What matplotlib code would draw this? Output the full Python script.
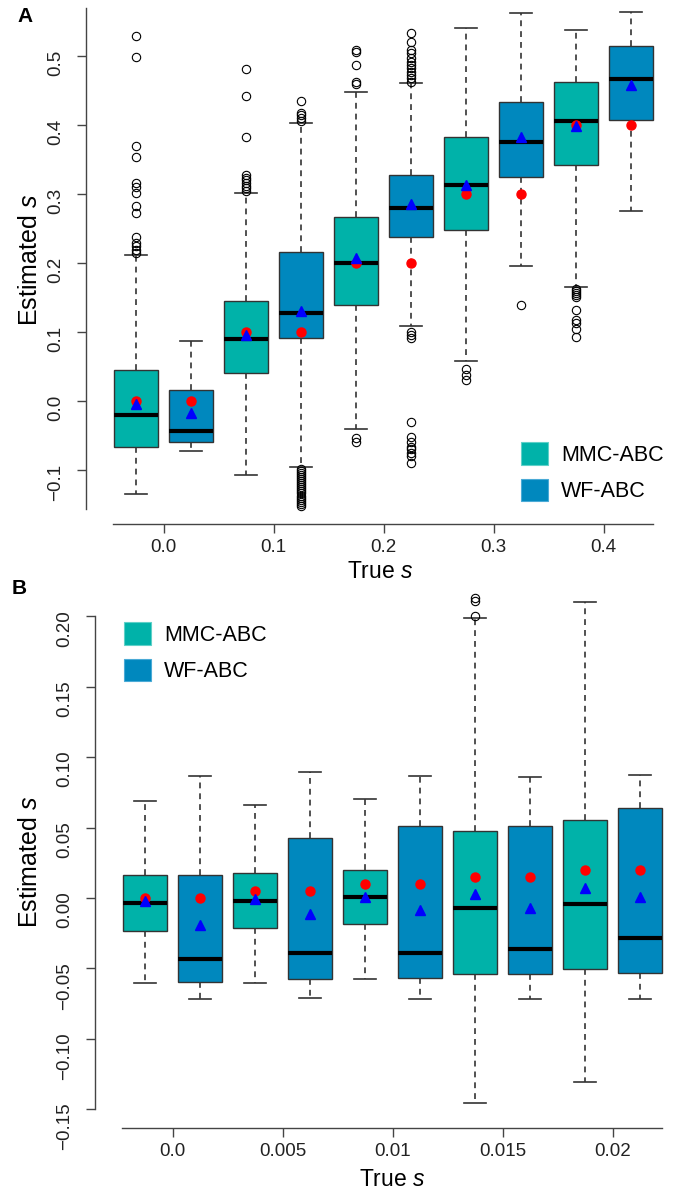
import matplotlib

matplotlib.use('Agg')
import matplotlib.pyplot as plt  # noqa: E402
from matplotlib.patches import Patch  # noqa: E402

plt.rcParams['font.family'] = ['Liberation Sans', 'DejaVu Sans']
plt.rcParams['mathtext.fontset'] = 'custom'
plt.rcParams['mathtext.rm'] = 'Liberation Sans'
plt.rcParams['mathtext.it'] = 'Liberation Sans:italic'

MMC_COLOR = '#00B2A9'
WF_COLOR = '#0088BE'
methods = ['MMC-ABC', 'WF-ABC']

# ---- panel A: large selection coefficients ----
a_tick_labels = ['0.0', '0.1', '0.2', '0.3', '0.4']
a_true = [0.0, 0.0, 0.1, 0.1, 0.2, 0.2, 0.3, 0.3, 0.4, 0.4]
a_mean = [-0.004, -0.018, 0.095, 0.130, 0.207, 0.286, 0.313, 0.383, 0.398, 0.458]
a_q1 = [-0.066, -0.060, 0.041, 0.092, 0.139, 0.238, 0.248, 0.325, 0.342, 0.407]
a_med = [-0.021, -0.043, 0.090, 0.128, 0.200, 0.279, 0.313, 0.375, 0.406, 0.467]
a_q3 = [0.045, 0.016, 0.145, 0.216, 0.266, 0.327, 0.382, 0.434, 0.462, 0.515]
a_whislo = [-0.135, -0.073, -0.108, -0.096, -0.041, 0.109, 0.058, 0.196, 0.165, 0.275]
a_whishi = [0.211, 0.087, 0.301, 0.403, 0.448, 0.461, 0.541, 0.563, 0.538, 0.564]
a_fliers = [
    [0.529, 0.498, 0.370, 0.353, 0.316, 0.310, 0.302, 0.282, 0.273, 0.238,
     0.229, 0.224, 0.219, 0.215],
    [],
    [0.481, 0.442, 0.383, 0.327, 0.323, 0.320, 0.316, 0.312, 0.308, 0.305],
    [0.435, 0.418, 0.414, 0.410, 0.406,
     -0.098, -0.101, -0.104, -0.107, -0.110, -0.113, -0.116, -0.119, -0.122,
     -0.125, -0.128, -0.131, -0.134, -0.137, -0.140, -0.143, -0.146, -0.149,
     -0.152],
    [0.509, 0.506, 0.487, 0.463, 0.460, -0.054, -0.059],
    [0.533, 0.521, 0.509, 0.504, 0.497, 0.492, 0.487, 0.482, 0.477, 0.472,
     0.468, 0.463, 0.100, 0.096, 0.091, -0.031, -0.052, -0.060, -0.066,
     -0.070, -0.075, -0.080, -0.090],
    [0.047, 0.038, 0.030],
    [0.139],
    [0.163, 0.160, 0.157, 0.154, 0.150, 0.132, 0.117, 0.113, 0.105, 0.093],
    [],
]
a_yticks = [-0.1, 0.0, 0.1, 0.2, 0.3, 0.4, 0.5]
a_ytick_labels = ['\u22120.1', '0.0', '0.1', '0.2', '0.3', '0.4', '0.5']

# ---- panel B: small selection coefficients ----
b_tick_labels = ['0.0', '0.005', '0.01', '0.015', '0.02']
b_true = [0.0, 0.0, 0.005, 0.005, 0.01, 0.01, 0.015, 0.015, 0.02, 0.02]
b_mean = [-0.002, -0.019, -0.001, -0.0116, 0.001, -0.0085, 0.0026, -0.0073, 0.0069, 0.0009]
b_q1 = [-0.0234, -0.0594, -0.0211, -0.0577, -0.0187, -0.0568, -0.0542, -0.0542, -0.0506, -0.0530]
b_med = [-0.0036, -0.0435, -0.0019, -0.0388, 0.0009, -0.0393, -0.0073, -0.0362, -0.0040, -0.0282]
b_q3 = [0.0165, 0.0163, 0.0175, 0.0424, 0.0199, 0.0511, 0.0476, 0.0511, 0.0551, 0.0641]
b_whislo = [-0.060, -0.0719, -0.060, -0.0712, -0.0575, -0.0715, -0.1453, -0.0715, -0.1304, -0.0719]
b_whishi = [0.069, 0.0868, 0.066, 0.0892, 0.070, 0.0868, 0.1986, 0.0861, 0.2104, 0.0871]
b_fliers = [[], [], [], [], [], [], [0.2002, 0.2111, 0.2128], [], [], []]
b_yticks = [-0.15, -0.10, -0.05, 0.00, 0.05, 0.10, 0.15, 0.20]
b_ytick_labels = ['\u22120.15', '\u22120.10', '\u22120.05', '0.00', '0.05',
                  '0.10', '0.15', '0.20']


def draw_panel(axis, q1, med, q3, whislo, whishi, fliers, true_s, means,
               tick_labels, yticks, ytick_labels, ylim, ybounds):
    positions = list(range(1, len(med) + 1))
    stats = []
    for i in range(len(med)):
        stats.append(dict(q1=q1[i], med=med[i], q3=q3[i], whislo=whislo[i],
                          whishi=whishi[i], fliers=fliers[i]))
    parts = axis.bxp(stats, positions=positions, widths=0.8, capwidths=0.4,
                     patch_artist=True, showfliers=True,
                     boxprops=dict(edgecolor='#333333', linewidth=1.0),
                     medianprops=dict(color='black', linewidth=3.0),
                     whiskerprops=dict(color='#333333', linewidth=1.2,
                                       linestyle=(0, (3.5, 3))),
                     capprops=dict(color='#333333', linewidth=1.2),
                     flierprops=dict(marker='o', markerfacecolor='none',
                                     markeredgecolor='black', markersize=6,
                                     markeredgewidth=0.8))
    for i, box in enumerate(parts['boxes']):
        box.set_facecolor(MMC_COLOR if i % 2 == 0 else WF_COLOR)
    axis.plot(positions, true_s, linestyle='none', marker='o', color='red',
              markersize=6.5, zorder=5)
    axis.plot(positions, means, linestyle='none', marker='^', color='blue',
              markersize=7, zorder=6)

    axis.set_xlim(0.09, 10.89)
    axis.set_ylim(*ylim)
    axis.set_xticks([1.5, 3.5, 5.5, 7.5, 9.5], labels=tick_labels)
    axis.set_yticks(yticks, labels=ytick_labels)
    for side in ('top', 'right'):
        axis.spines[side].set_visible(False)
    axis.spines['left'].set_bounds(*ybounds)
    axis.spines['bottom'].set_bounds(0.58, 10.4)
    for side in ('left', 'bottom'):
        axis.spines[side].set_color('#444444')
        axis.spines[side].set_linewidth(1.0)
    axis.tick_params(axis='both', length=6.5, width=1.0, color='#444444',
                     labelsize=13.5, labelcolor='#222222')
    axis.tick_params(axis='x', pad=4)
    axis.tick_params(axis='y', labelrotation=90, pad=9)


fig = plt.figure(figsize=(6.78, 11.94), dpi=100)
W, H = 678.0, 1194.0

ax_a = fig.add_axes([86 / W, (H - 524) / H, 594 / W, 516 / H])
draw_panel(ax_a, a_q1, a_med, a_q3, a_whislo, a_whishi, a_fliers, a_true, a_mean,
           a_tick_labels, a_yticks, a_ytick_labels, (-0.1783, 0.5696), (-0.157, 0.5696))

ax_b = fig.add_axes([95 / W, (H - 1128) / H, 594 / W, 549 / H])
draw_panel(ax_b, b_q1, b_med, b_q3, b_whislo, b_whishi, b_fliers, b_true, b_mean,
           b_tick_labels, b_yticks, b_ytick_labels, (-0.1633, 0.2265), (-0.15, 0.20))

handles = [Patch(facecolor=MMC_COLOR, edgecolor='#5fd0c8', linewidth=0.8),
           Patch(facecolor=WF_COLOR, edgecolor='#4aaad6', linewidth=0.8)]
legend_kw = dict(frameon=False, fontsize=15.5, handlelength=1.25, handleheight=1.25,
                 handletextpad=0.6, labelspacing=0.6, borderpad=0, borderaxespad=0,
                 loc='upper left')
ax_a.legend(handles, methods, bbox_to_anchor=(521 / W, (H - 442) / H),
            bbox_transform=fig.transFigure, **legend_kw)
ax_b.legend(handles, methods, bbox_to_anchor=(124 / W, (H - 622) / H),
            bbox_transform=fig.transFigure, **legend_kw)

fig.text(380 / W, (H - 572) / H, 'True $s$', fontsize=16.5, ha='center', va='center')
fig.text(392 / W, (H - 1180) / H, 'True $s$', fontsize=16.5, ha='center', va='center')
fig.text(30 / W, (H - 260) / H, 'Estimated $s$', fontsize=18, rotation=90,
         ha='center', va='center')
fig.text(30 / W, (H - 862) / H, 'Estimated $s$', fontsize=18, rotation=90,
         ha='center', va='center')
fig.text(25 / W, (H - 16) / H, 'A', fontsize=15, fontweight='bold',
         ha='center', va='center')
fig.text(19 / W, (H - 589) / H, 'B', fontsize=15, fontweight='bold',
         ha='center', va='center')

fig.savefig('out.png', dpi=100)
plt.close(fig)
